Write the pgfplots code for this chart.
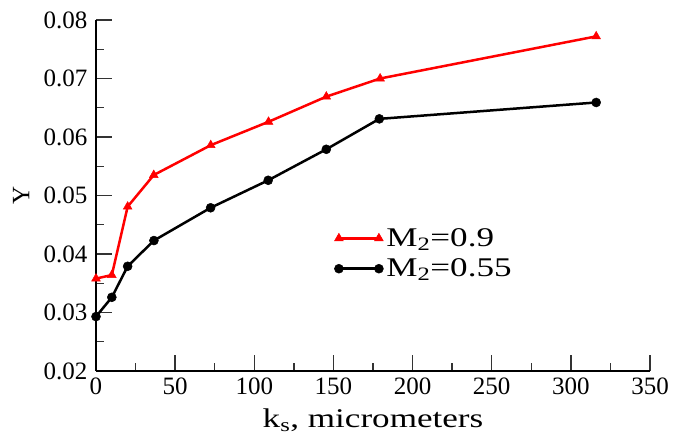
\documentclass[border=0pt]{standalone}
\usepackage{fontspec}
\setmainfont{Liberation Serif}
\newfontfamily\widefont{Liberation Serif}[FakeStretch=1.3]
\usepackage{pgfplots}
\pgfplotsset{compat=1.18}
\begin{document}
\begin{tikzpicture}
\begin{axis}[
  scale only axis,
  width=554pt, height=351pt,
  xmin=0, xmax=350, ymin=0.02, ymax=0.08,
  axis x line*=bottom, axis y line*=left,
  axis line style={line width=1.6pt},
  xtick={0,50,...,350}, minor xtick={25,75,...,325},
  ytick={0.02,0.03,...,0.08}, minor ytick={0.025,0.035,...,0.075},
  tick align=inside,
  major tick length=16pt, minor tick length=8pt,
  every tick/.style={line width=1.3pt, black!80},
  /pgf/number format/assume math mode=true,
  yticklabel style={/pgf/number format/fixed, /pgf/number format/precision=2, /pgf/number format/fixed zerofill, xshift=-5pt},
  scaled y ticks=false,
  ticklabel style={font=\fontsize{25}{29}\selectfont},
  xticklabel style={yshift=-3pt},
  xlabel={k\textsubscript{s}, micrometers},
  ylabel={Y},
  every axis x label/.style={at={(axis description cs:0.5,-0.162)}, anchor=base, font=\widefont\fontsize{27}{31}\selectfont},
  every axis y label/.style={at={(axis description cs:-0.135,0.5)}, anchor=center, rotate=90, font=\fontsize{25}{29}\selectfont},
  legend style={draw=none, fill=none, at={(0.43,0.415)}, anchor=north west,
    font=\widefont\fontsize{27}{31}\selectfont, row sep=5pt, inner sep=0pt,
    nodes={inner sep=3pt}},
  legend cell align=left,
  legend image code/.code={\draw[#1] plot coordinates {(0pt,0pt) (40pt,0pt)};},
]
\addplot[red, line width=2.5pt, mark=triangle*, mark size=5pt, mark options={line width=0.5pt}] coordinates {
(0,0.0358) (10,0.0364) (20,0.0481) (36.5,0.0535) (72.5,0.0586) (109,0.0626) (145.5,0.0669) (179.5,0.0700) (316,0.0772)
};
\addlegendentry{M\textsubscript{2}=0.9}
\addplot[black, line width=2.5pt, mark=*, mark size=4.5pt, mark options={line width=0.5pt}] coordinates {
(0,0.0293) (10,0.0326) (20,0.0379) (36.6,0.0423) (72.4,0.0479) (108.8,0.0526) (145.5,0.0579) (179,0.0631) (316,0.0659)
};
\addlegendentry{M\textsubscript{2}=0.55}
\end{axis}
\pgfresetboundingbox
\path[use as bounding box] (current axis.south west) ++(-96pt,-73pt) rectangle ++(678pt,444pt);
\end{tikzpicture}
\end{document}
